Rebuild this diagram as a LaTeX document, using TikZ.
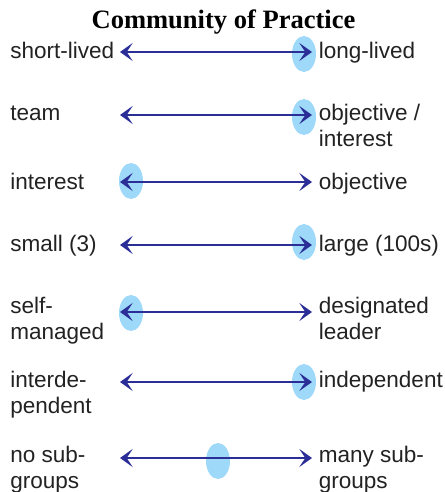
\documentclass[tikz,border=0pt]{standalone}
\usepackage{fontspec}
\setmainfont{Liberation Sans}
\newfontfamily\titlefont{Liberation Serif}
\usetikzlibrary{arrows.meta,shapes.geometric}
\definecolor{arrowblue}{HTML}{2A2E96}
\definecolor{markblue}{HTML}{9ED9F9}
\definecolor{labelgray}{HTML}{222222}
\tikzset{
  >={Stealth[length=9.5pt,width=13.5pt,inset=4.5pt]},
  conn/.style={draw=arrowblue, line width=1.7pt, <->},
  marker/.style={ellipse, fill=markblue, draw=none, minimum width=18pt, minimum height=27pt, inner sep=0pt},
  label/.style={anchor=base west, inner sep=0pt, text=labelgray,
    font=\fontsize{16.9}{19.5}\selectfont},
  heading/.style={anchor=base, inner sep=0pt, font=\titlefont\bfseries\fontsize{19.9}{22}\selectfont}
}
\newcommand{\twoline}[2]{\begin{tabular}[t]{@{}l@{}}#1\\#2\end{tabular}}
\begin{document}
\begin{tikzpicture}[x=0.75pt,y=-0.75pt]
  \useasboundingbox (0,0) rectangle (445,492);
  \node[heading] (title) at (223.5,28.5) {Community of Practice};

  % markers showing where a community of practice sits on each scale
  \node[marker] (m1) at (304,54) {};
  \node[marker] (m2) at (304,117) {};
  \node[marker] (m3) at (131,181) {};
  \node[marker] (m4) at (304,242) {};
  \node[marker] (m5) at (131,313) {};
  \node[marker] (m6) at (304,382) {};
  \node[marker] (m7) at (218,461) {};

  % scale end points
  \coordinate (a1) at (120,52);  \coordinate (b1) at (312,52);
  \coordinate (a2) at (120,115); \coordinate (b2) at (312,115);
  \coordinate (a3) at (120,182); \coordinate (b3) at (312,182);
  \coordinate (a4) at (120,245); \coordinate (b4) at (312,245);
  \coordinate (a5) at (120,312); \coordinate (b5) at (312,312);
  \coordinate (a6) at (120,382); \coordinate (b6) at (312,382);
  \coordinate (a7) at (120,458); \coordinate (b7) at (312,458);

  \foreach \i in {1,...,7} { \draw[conn] (a\i) -- (b\i); }

  % left labels
  \node[label] (l1) at (10,58.5) {short-lived};
  \node[label] (l2) at (10,120) {team};
  \node[label] (l3) at (10,189) {interest};
  \node[label] (l4) at (10,251.5) {small (3)};
  \node[label] (l5) at (10,313) {\twoline{self-}{managed}};
  \node[label] (l6) at (10,387) {\twoline{interde-}{pendent}};
  \node[label] (l7) at (10,462) {\twoline{no sub-}{groups}};

  % right labels
  \node[label] (r1) at (318.5,58.5) {long-lived};
  \node[label] (r2) at (318.5,120) {\twoline{objective /}{interest}};
  \node[label] (r3) at (318.5,189) {objective};
  \node[label] (r4) at (318.5,251.5) {large (100s)};
  \node[label] (r5) at (318.5,313) {\twoline{designated}{leader}};
  \node[label] (r6) at (318.5,387) {independent};
  \node[label] (r7) at (318.5,462) {\twoline{many sub-}{groups}};
\end{tikzpicture}
\end{document}
